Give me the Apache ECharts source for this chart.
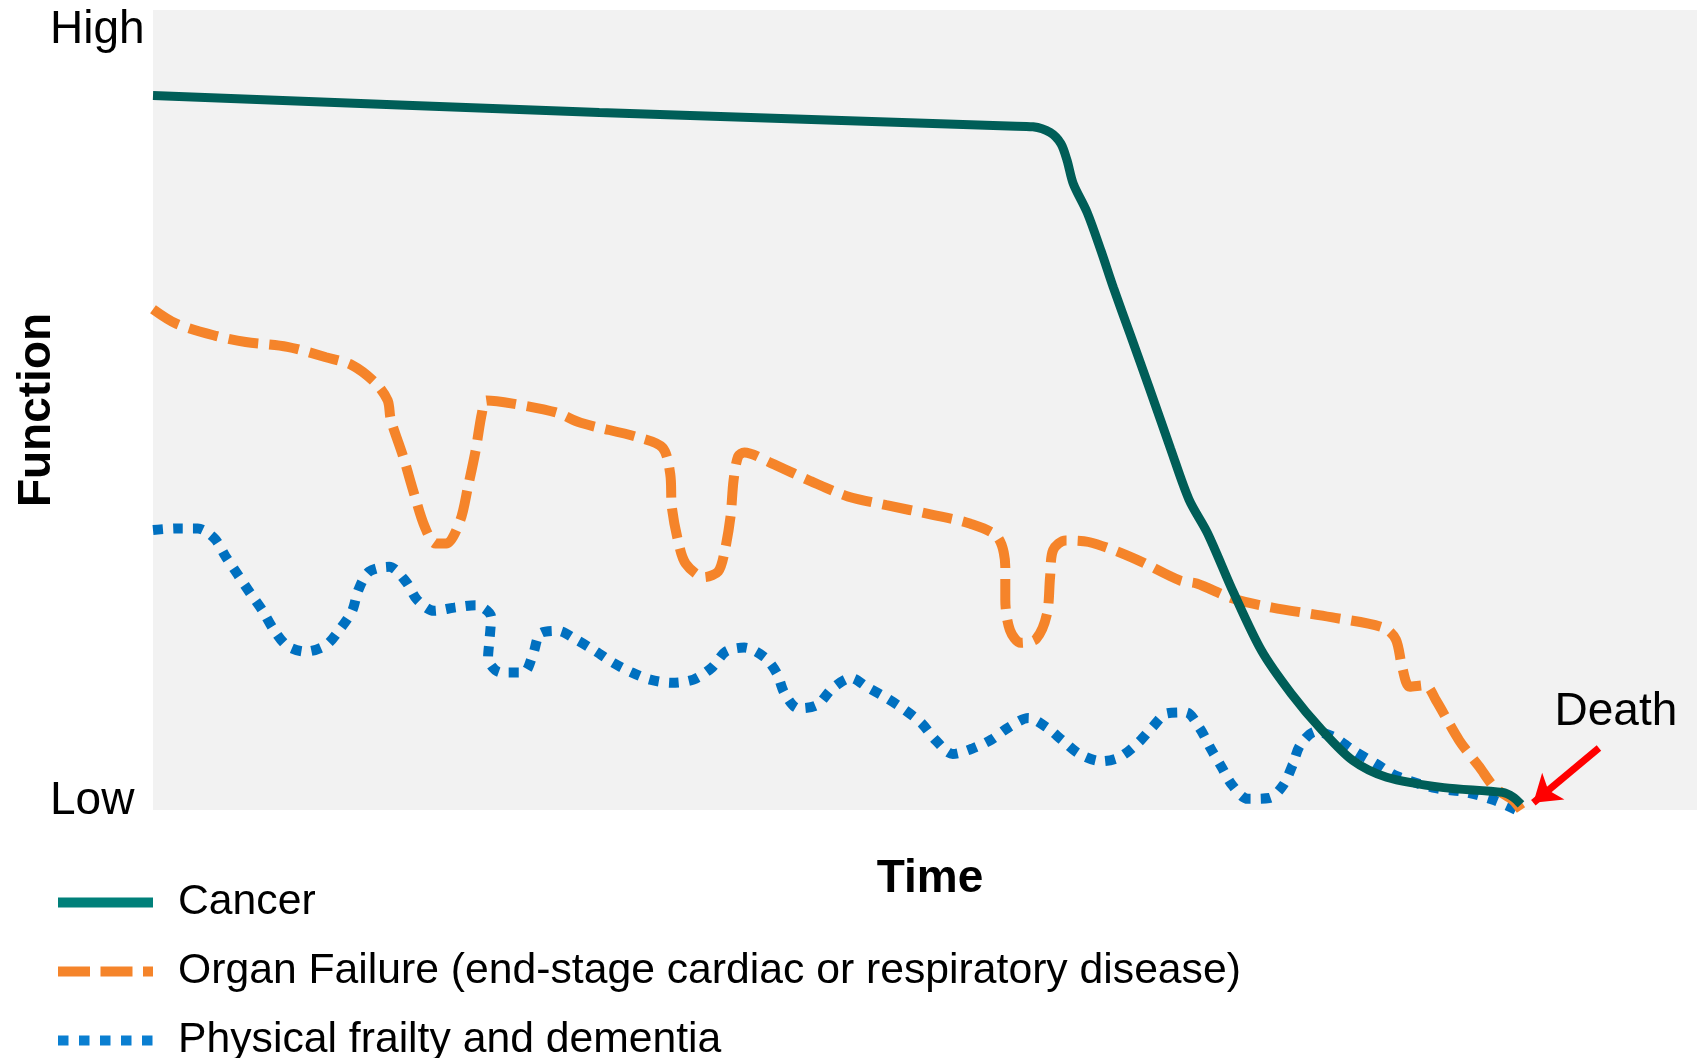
<!DOCTYPE html>
<html>
<head>
<meta charset="utf-8">
<script src="https://cdn.jsdelivr.net/npm/echarts@6/dist/echarts.min.js"></script>
<style>
  html, body { margin: 0; padding: 0; background: #fff; }
  #chart { width: 1700px; height: 1058px; }
</style>
</head>
<body>
<div id="chart"></div>
<script>
var seriesNames = ["Cancer", "Organ Failure (end-stage cardiac or respiratory disease)", "Physical frailty and dementia"];
var yTickValues = [1.1, 97.4];
var yTickLabels = ["Low", "High"];

// [time, function], 0..100 on both axes
var cancer = [[0, 89.3], [28.9, 87.2], [55.4, 85.5], [57.0, 85.4], [58.1, 84.7], [58.8, 83.3], [59.2, 81.2],
    [59.6, 78.3], [60.5, 74.7], [61.4, 69.9], [62.2, 65.3], [63.3, 59.4], [64.5, 52.9], [65.9, 45.2],
    [67.1, 38.8], [68.3, 34.6], [70.0, 27.1], [71.8, 19.9], [73.7, 14.6], [75.7, 10.0], [77.7, 6.2],
    [79.9, 4.1], [83.6, 2.8], [87.4, 2.2], [88.1, 1.6], [88.6, 0.7]];

var organ = [[0, 62.6], [1.5, 60.8], [4.0, 59.3], [6.0, 58.5], [8.7, 57.9], [11.2, 56.6], [12.9, 55.6],
    [14.4, 53.4], [15.2, 51.2], [15.4, 48.8], [16.2, 44.2], [16.9, 39.6], [17.6, 35.4], [18.3, 33.3],
    [19.0, 33.3], [19.9, 36.2], [20.4, 40.4], [20.9, 45.0], [21.3, 49.6], [21.6, 51.2], [23.3, 50.8],
    [26.1, 49.7], [27.7, 48.4], [31.4, 46.6], [33.0, 45.3], [33.5, 42.0], [33.6, 37.9], [34.0, 33.7],
    [34.5, 30.8], [35.7, 29.1], [36.6, 29.8], [37.0, 32.1], [37.4, 36.6], [37.6, 41.2], [37.9, 44.2],
    [38.3, 44.7], [40.0, 43.4], [42.6, 41.1], [45.0, 39.2], [47.5, 38.1], [50.5, 36.9], [52.9, 35.8],
    [54.7, 34.1], [55.2, 30.4], [55.2, 26.3], [55.5, 22.5], [56.2, 20.9], [57.2, 21.4], [57.9, 24.5],
    [58.1, 29.1], [58.3, 32.5], [59.1, 33.7], [60.6, 33.5], [63.6, 31.4], [66.5, 28.7], [67.6, 28.3],
    [70.0, 26.4], [72.5, 25.3], [76.3, 24.1], [79.7, 22.8], [80.5, 21.3], [80.9, 17.9], [81.4, 15.4],
    [82.4, 15.6], [83.1, 13.7], [84.6, 8.7], [85.9, 5.4], [86.9, 2.8], [88.1, 1.2], [88.6, 0]];

var frailty = [[0, 35.0], [1.5, 35.2], [2.9, 35.2], [4.0, 33.9], [4.7, 31.7], [5.5, 29.4], [6.3, 27.1],
    [7.1, 24.9], [7.8, 22.6], [8.7, 20.5], [9.9, 19.8], [11.2, 20.6], [12.1, 22.6], [12.9, 24.9],
    [13.3, 27.5], [14.0, 29.8], [15.3, 30.4], [16.4, 28.5], [17.1, 26.3], [18.2, 24.9], [19.5, 25.3],
    [20.9, 25.6], [21.9, 24.1], [21.8, 21.4], [21.7, 19.0], [22.5, 17.2], [24.0, 17.2], [24.6, 19.4],
    [25.1, 22.1], [26.2, 22.4], [27.4, 21.3], [28.7, 19.8], [29.8, 18.4], [31.0, 17.2], [32.2, 16.3],
    [33.6, 15.9], [35.0, 16.3], [36.2, 17.8], [37.1, 19.8], [38.3, 20.3], [39.6, 19.1], [40.4, 17.1],
    [40.9, 14.6], [41.8, 12.7], [43.0, 13.1], [44.0, 15.2], [45.2, 16.5], [46.3, 15.3], [47.5, 14.0],
    [48.7, 12.5], [49.8, 10.8], [50.7, 8.7], [51.8, 7.0], [53.1, 7.7], [54.3, 8.8], [55.4, 10.3],
    [56.7, 11.5], [57.9, 10.3], [58.9, 8.7], [60.0, 7.0], [61.4, 6.1], [62.6, 6.6], [63.8, 8.4],
    [64.7, 10.3], [65.7, 12.1], [66.9, 12.2], [67.8, 10.2], [68.5, 7.7], [69.2, 5.4], [69.9, 3.1],
    [70.9, 1.4], [72.3, 1.5], [73.2, 3.1], [73.8, 5.6], [74.3, 8.1], [75.3, 9.8], [76.5, 9.1],
    [77.7, 7.5], [79.2, 5.8], [80.6, 4.2], [82.9, 2.8], [85.1, 2.2], [86.9, 1.2], [88.3, 0]];

// death annotation: arrow from -> to, and the label point
var deathArrow = [[93.65, 7.75], [89.4, 0.9]];
var deathLabel = [94.75, 12.2];

var font = "'Liberation Sans', Arial, sans-serif";

var myChart = echarts.init(document.getElementById("chart"), null, { renderer: "canvas" });

var option = {
    animation: false,
    backgroundColor: "#ffffff",
    grid: {
        show: true,
        left: 153,
        right: 3,
        top: 10,
        bottom: 248,
        outerBoundsMode: "none",
        containLabel: false,
        backgroundColor: "#f2f2f2",
        borderWidth: 0
    },
    xAxis: {
        type: "value",
        min: 0,
        max: 100,
        name: "Time",
        nameLocation: "middle",
        nameGap: 46,
        nameMoveOverlap: false,
        nameTextStyle: { fontFamily: font, fontSize: 46, fontWeight: "bold", color: "#000", padding: [0, 0, 0, 10] },
        axisLine: { show: false },
        axisTick: { show: false },
        axisLabel: { show: false },
        splitLine: { show: false }
    },
    yAxis: {
        type: "value",
        min: 0,
        max: 100,
        name: "Function",
        nameLocation: "middle",
        nameRotate: 90,
        nameGap: 93,
        nameMoveOverlap: false,
        nameTextStyle: { fontFamily: font, fontSize: 46, fontWeight: "bold", color: "#000" },
        axisLine: { show: false },
        axisTick: { show: false },
        splitLine: { show: false },
        axisLabel: {
            customValues: yTickValues,
            align: "left",
            margin: 103,
            fontFamily: font,
            fontSize: 46,
            color: "#000",
            formatter: function (v) {
                return v > 50 ? yTickLabels[1] : yTickLabels[0];
            }
        }
    },
    legend: {
        orient: "vertical",
        left: 53,
        top: 881,
        height: 400,
        padding: 0,
        itemWidth: 95,
        itemHeight: 10,
        itemGap: 26,
        selectedMode: false,
        itemStyle: { opacity: 0 },
        textStyle: { fontFamily: font, fontSize: 42.7, color: "#000", padding: [0, 0, 0, 20] },
        data: [
            { name: seriesNames[0], lineStyle: { color: "#00807a", width: 10 } },
            { name: seriesNames[1], lineStyle: { color: "#f5842a", width: 10, type: [32, 10.5] } },
            { name: seriesNames[2], lineStyle: { color: "#0a7fd1", width: 10, type: [10.5, 10.5] } }
        ]
    },
    series: [
        {
            name: seriesNames[2],
            type: "line",
            data: frailty,
            smooth: 0.3,
            symbol: "none",
            lineStyle: { color: "#0070c0", width: 10, type: [10, 10] },
            itemStyle: { color: "#0070c0" }
        },
        {
            name: seriesNames[1],
            type: "line",
            data: organ,
            smooth: 0.3,
            symbol: "none",
            lineStyle: { color: "#f5842a", width: 10, type: [30, 11] },
            itemStyle: { color: "#f5842a" }
        },
        {
            name: seriesNames[0],
            type: "line",
            data: cancer,
            smooth: 0.3,
            symbol: "none",
            lineStyle: { color: "#005e58", width: 9 },
            itemStyle: { color: "#005e58" },
            markLine: {
                silent: true,
                symbol: ["none", "arrow"],
                symbolSize: 26,
                label: { show: false },
                lineStyle: { color: "#ff0000", width: 7, type: "solid" },
                data: [[{ coord: deathArrow[0] }, { coord: deathArrow[1] }]]
            },
            markPoint: {
                silent: true,
                symbolSize: 0,
                label: {
                    show: true,
                    position: "inside",
                    formatter: "Death",
                    fontFamily: font,
                    fontSize: 46,
                    color: "#000"
                },
                data: [{ coord: deathLabel }]
            }
        }
    ]
};

myChart.setOption(option);
</script>
</body>
</html>
